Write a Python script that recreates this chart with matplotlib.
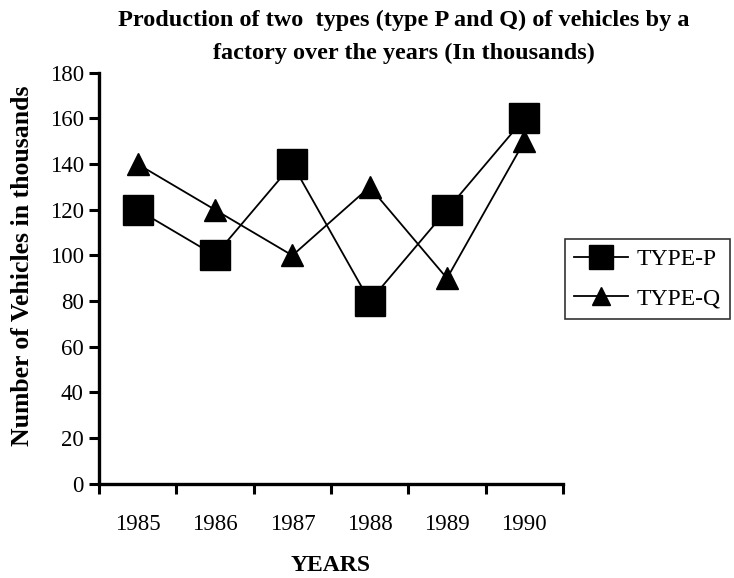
import matplotlib
matplotlib.use("Agg")
import matplotlib.pyplot as plt
import numpy as np

# data (thousands of vehicles)
years = ["1985", "1986", "1987", "1988", "1989", "1990"]
type_p = [120, 100, 140, 80, 120, 160]
type_q = [140, 120, 100, 130, 90, 150]

plt.rcParams["font.family"] = ["Liberation Serif", "DejaVu Serif"]

fig = plt.figure(figsize=(7.34, 5.78), dpi=100)
ax = fig.add_axes([0.135, 0.163, 0.632, 0.711])

x = np.arange(len(years))
ax.plot(x, type_p, color="black", lw=1.3, marker="s", markersize=21,
        label="TYPE-P")
ax.plot(x, type_q, color="black", lw=1.3, marker="^", markersize=16,
        label="TYPE-Q")

# category axis: ticks between categories, labels in the middle
ax.set_xlim(-0.5, len(years) - 0.5)
ax.set_xticks(np.arange(len(years) + 1) - 0.5)
ax.set_xticklabels([])
ax.set_xticks(x, minor=True)
ax.set_xticklabels(years, minor=True, fontsize=16.5)
ax.tick_params(axis="x", which="minor", length=0, pad=22)
ax.tick_params(axis="x", which="major", direction="out", length=7, width=2.2)

ax.set_ylim(0, 180)
ax.set_yticks(range(0, 181, 20))
ax.tick_params(axis="y", direction="out", length=7, width=2.2, labelsize=16.5,
               pad=4)

for side in ["top", "right"]:
    ax.spines[side].set_visible(False)
for side in ["left", "bottom"]:
    ax.spines[side].set_linewidth(2.4)

fig.text(0.55, 0.965, "Production of two  types (type P and Q) of vehicles by a",
         ha="center", va="center", fontsize=17.5, fontweight="bold")
fig.text(0.55, 0.907, "factory over the years (In thousands)",
         ha="center", va="center", fontsize=17.5, fontweight="bold")
fig.text(0.03, 0.541, "Number of Vehicles in thousands", rotation=90,
         ha="center", va="center", fontsize=18.5, fontweight="bold")
fig.text(0.451, 0.022, "YEARS", ha="center", va="center", fontsize=17,
         fontweight="bold")

leg = fig.legend(loc="center right", bbox_to_anchor=(0.995, 0.517),
                 fontsize=17, frameon=True, fancybox=False, edgecolor="black",
                 handlelength=2.3, handletextpad=0.35, borderpad=0.4,
                 labelspacing=0.75, borderaxespad=0, markerscale=0.85)
leg.get_frame().set_linewidth(1.2)

fig.savefig("out.png", dpi=100)
